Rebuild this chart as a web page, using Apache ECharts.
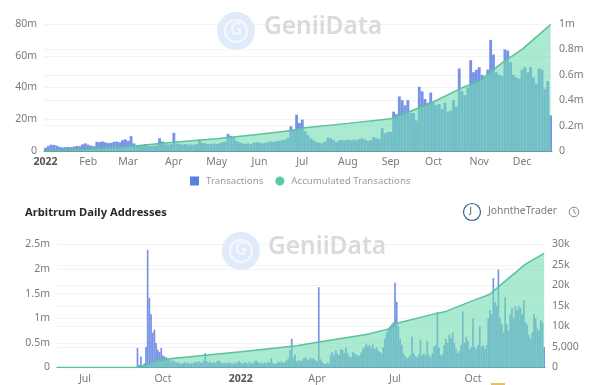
<!DOCTYPE html>
<html><head><meta charset="utf-8">
<style>html,body{margin:0;padding:0;background:#fff}#c{width:600px;height:385px;filter:blur(.35px)}</style>
<script src="https://cdn.jsdelivr.net/npm/echarts@6/dist/echarts.min.js"></script>
</head><body><div id="c"></div>
<script>
// Top chart: one value per two days, 2022
const txBars = [25,40,50,48,42,32,28,30,32,30,35,40,38,52,60,50,
 42,38,72,70,75,68,62,65,72,75,68,85,92,80,
 117,60,40,38,45,55,42,40,42,45,100,75,55,50,55,143,
 60,55,50,55,50,52,50,55,90,65,60,55,55,60,55,60,70,75,135,120,105,80,70,60,55,60,55,65,70,65,
 60,65,70,75,72,78,80,85,90,105,195,170,285,220,
 247,155,125,100,85,70,65,60,75,105,100,85,70,85,85,85,90,85,90,85,95,100,90,80,85,110,100,95,
 180,140,150,150,310,290,430,400,360,400,300,300,240,505,470,410,380,460,380,360,370,330,380,310,320,400,350,650,470,440,500,715,620,640,660,600,580,640,
 875,760,620,600,590,800,790,700,600,580,570,640,660,620,660,580,530,650,640,490,550,280];
const txTicks = [0,15,29,45,60,75,90,106,121,136,152,167];
const txLabels = ['2022','Feb','Mar','Apr','May','Jun','Jul','Aug','Sep','Oct','Nov','Dec'];
const txAccIdx = [0,15,30,45,60,75,88,90,106,121,128,136,146,152,160,167,177];
const txAcc = [0,1.2,3,5.5,7.7,10.5,13.2,14.5,17.4,20.3,25,31,39.8,44,55.5,64,79.6];

// Bottom chart: one value per two days, mid 2021 to end 2022
const addrLead = 47;
const addrBars = [4800,600,2700,500,1000,5000,28700,17000,13000,8500,9200,6000,4300,3800,4800,2900,2700,2500,
 1800,2000,1500,1700,1400,1200,1300,1000,900,1100,1300,1000,1200,900,1100,1000,1400,1200,1500,1300,1100,1600,3500,
 1500,1200,1400,1000,1300,1100,1500,1700,1300,1100,900,1200,1000,1300,1100,800,1200,1000,1300,1500,1100,
 1000,1200,1300,900,1400,1100,1000,1500,1700,1300,1000,1200,900,1300,1000,1400,1200,2300,
 1100,900,1000,1400,1200,1500,1100,1300,1800,2200,4200,7000,2500,3200,1500,1800,1500,1700,2200,2500,2000,1800,2400,2000,2300,1800,1500,19600,2000,
 1400,1000,800,1200,1000,3200,3800,3000,4200,3500,3000,4500,4300,3500,4800,3500,2800,2500,3800,3500,3200,3000,2800,3600,4500,5000,5800,5200,5500,4800,5600,4500,5000,4200,3800,3500,
 5000,7000,8500,9500,10000,10500,11000,20700,16000,10000,7000,5500,3500,2800,2200,2500,3000,7500,3500,2800,2500,3200,6800,3000,3500,2900,6500,3000,2500,3500,5000,5500,13500,4800,3000,3200,5500,7000,6000,8000,7200,8500,6000,4500,3500,4000,5500,13700,6000,7500,6500,4500,5000,12000,5000,4500,5500,10000,5000,5500,4500,5500,
 12000,14000,13000,21800,16000,15000,23900,12000,10500,8500,17200,10500,9000,13000,14500,12000,15000,14000,15000,14500,13000,16400,11000,10500,8000,7000,8500,13000,12000,9500,9000,11500,11000,5000];
const addrTicks = [16,62,108,153,199,245];
const addrLabels = ['Jul','Oct','2022','Apr','Jul','Oct'];
const addrAccIdx = [0,47,52,58,66,108,141,154,182,196,199,221,229,245,255,261,276,287];
const addrAcc = [0,0,0.05,0.13,0.18,0.32,0.44,0.52,0.67,0.79,0.89,1.08,1.14,1.36,1.49,1.67,2.1,2.32];

const fullAddr = new Array(addrLead).fill(0).concat(addrBars);
const BLUE='#5f80e4', GREEN='#5cc09c';
const labelColor='#7a7a7a', font='"Noto Sans","Open Sans",sans-serif';

function catAxis(grid,n,ticks,labels){
  const map={}; ticks.forEach((t,k)=>map[t]=labels[k]);
  const hit=i=>map[i]!==undefined;
  return {type:'category',gridIndex:grid,data:Array.from({length:n},(_,i)=>map[i]||''),
    axisLine:{lineStyle:{color:'#6a9aa6'}},
    axisTick:{alignWithLabel:true,interval:hit,length:4,lineStyle:{color:'#8a9aa0'}},
    splitLine:{show:false},
    axisLabel:{interval:hit,color:labelColor,fontSize:10.5,fontFamily:font,margin:6,
      formatter:v=>v==='2022'?'{b|2022}':v,
      rich:{b:{fontWeight:'bold',color:'#555',fontSize:10.5,fontFamily:font}}}};
}
function valAxis(grid,pos,max,interval,fmt){
  return {type:'value',gridIndex:grid,position:pos,min:0,max,interval,
    axisLine:{show:false},axisTick:{show:false},
    splitLine:{lineStyle:{color:'#f3f3f3',width:1}},
    axisLabel:{color:labelColor,fontSize:10.5,fontFamily:font,margin:7,formatter:fmt}};
}
const m=v=>v===0?'0':v+'m';
const k=v=>v===0?'0':v===5000?'5,000':(v/1000)+'k';
const mRight=v=>v===0?'0':(v/1000===1?'1m':(v/1000)+'m');

function lineSeries(idx,vals,x,y){
  return {name:'Accumulated Transactions',type:'line',xAxisIndex:x,yAxisIndex:y,z:3,symbol:'none',
    data:idx.map((d,i)=>[d,vals[i]]),
    lineStyle:{color:GREEN,width:1.5},
    itemStyle:{color:GREEN},
    areaStyle:{color:'#6fdcb0',opacity:.6}};
}
function barSeries(vals,x,y){
  return {name:'Transactions',type:'bar',xAxisIndex:x,yAxisIndex:y,z:2,data:vals,
    barWidth:'100%',itemStyle:{color:BLUE,opacity:.85}};
}
function mark(cx,cy,tx){
  return [
    {type:'circle',silent:true,shape:{cx,cy,r:19},style:{fill:'#dfeafb'},z:10},
    {type:'circle',silent:true,shape:{cx,cy,r:11},style:{fill:'none',stroke:'#f2f6fd',lineWidth:2.5},z:10},
    {type:'text',silent:true,x:cx-6,y:cy-9,style:{text:'G',fill:'#f2f6fd',font:'bold 17px '+font},z:10},
    {type:'text',silent:true,x:tx,y:cy-16,style:{text:'GeniiData',fill:'#dadada',font:'600 24.5px '+font},z:10}
  ];
}
const chart=echarts.init(document.getElementById('c'),null,{renderer:'canvas'});
chart.setOption({
  animation:false,backgroundColor:'#fff',
  grid:[{left:44,right:48,top:24,height:127},{left:57,right:55,top:244.5,height:123}],
  xAxis:[catAxis(0,txBars.length,txTicks,txLabels),catAxis(1,fullAddr.length,addrTicks,addrLabels)],
  yAxis:[valAxis(0,'left',80,20,m),valAxis(0,'right',1000,200,mRight),
         valAxis(1,'left',2.5,0.5,m),valAxis(1,'right',30000,5000,k)],
  legend:{left:185,top:171,itemWidth:9,itemHeight:9,itemGap:12,
    textStyle:{color:'#9a9a9a',fontSize:9.7,fontFamily:font,padding:[0,0,0,2]},
    data:[{name:'Transactions',icon:'rect',itemStyle:{color:'#5b7fe0',opacity:1}},
          {name:'Accumulated Transactions',icon:'circle',itemStyle:{color:'#5cc9a0',opacity:1}}]},
  series:[barSeries(txBars,0,1),lineSeries(txAccIdx,txAcc,0,0),
          barSeries(fullAddr,1,3),lineSeries(addrAccIdx,addrAcc,1,2)],
  graphic:[].concat(mark(236,31,264),mark(241,251,268),[
    {type:'text',silent:true,x:25,y:207,style:{text:'Arbitrum Daily Addresses',fill:'#2a2a2a',font:'bold 11.2px '+font}},
    {type:'circle',silent:true,shape:{cx:472,cy:212,r:8.5},style:{fill:'#fff',stroke:'#2f6397',lineWidth:1.2}},
    {type:'text',silent:true,x:469.5,y:207,style:{text:'J',fill:'#444',font:'9px '+font}},
    {type:'text',silent:true,x:488,y:206,style:{text:'JohntheTrader',fill:'#7c7c7c',font:'10.3px '+font}},
    {type:'circle',silent:true,shape:{cx:574,cy:212,r:4.8},style:{fill:'none',stroke:'#888',lineWidth:1}},
    {type:'polyline',silent:true,shape:{points:[[574,209],[574,212],[576,214]]},style:{fill:'none',stroke:'#888',lineWidth:1}},
    {type:'rect',silent:true,shape:{x:491,y:383,width:14,height:2},style:{fill:'#e9bd62'}}
  ])
});
</script></body></html>
